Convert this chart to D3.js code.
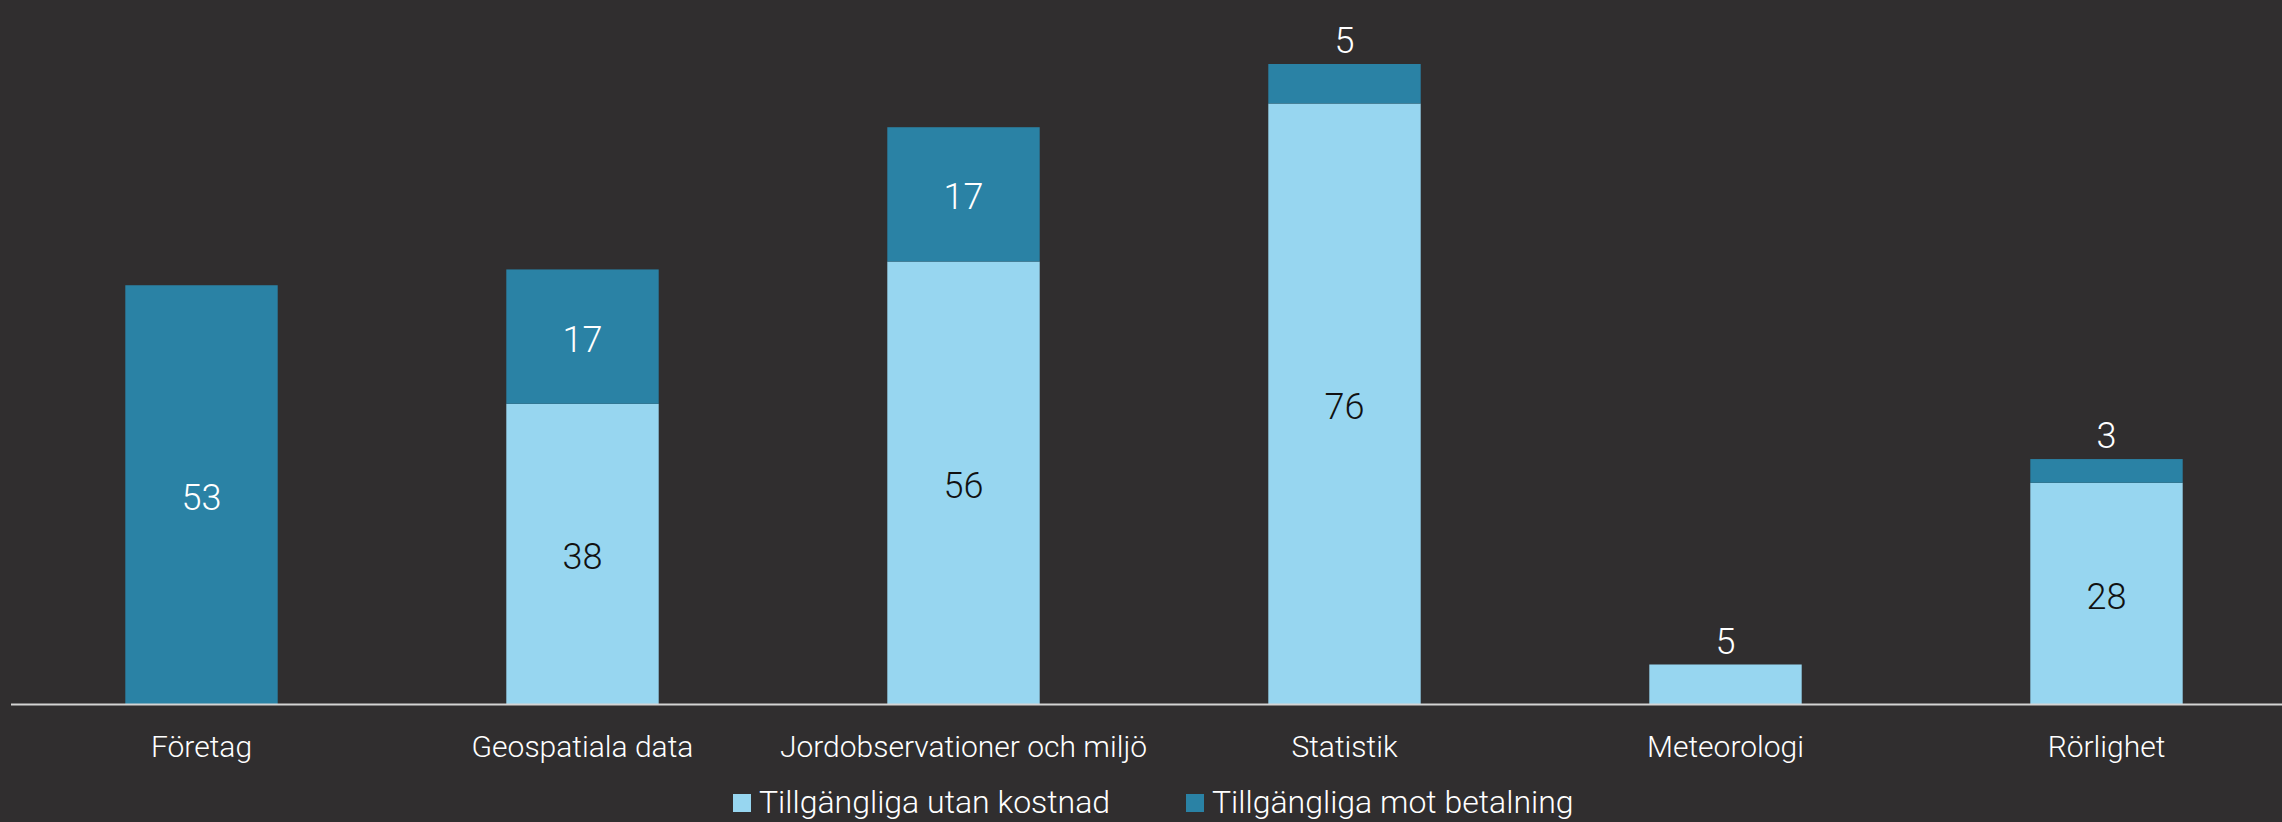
<!DOCTYPE html>
<html>
<head>
<meta charset="utf-8">
<script src="https://cdn.jsdelivr.net/npm/d3@7"></script>
<style>
	body { margin: 0; background: #302e2f; }
	svg text { font-family: Roboto, "Open Sans", sans-serif; font-weight: 300; }
</style>
</head>
<body>
<div class="main"></div>
<script>
//data
var categories = ["Företag", "Geospatiala data", "Jordobservationer och miljö", "Statistik", "Meteorologi", "Rörlighet"];
var freeValues = [0, 38, 56, 76, 5, 28];//Tillgängliga utan kostnad
var paidValues = [53, 17, 17, 5, 0, 3];//Tillgängliga mot betalning
var seriesNames = ["Tillgängliga utan kostnad", "Tillgängliga mot betalning"];
var seriesColors = ["#97d6f0", "#2a82a5"];
var labelColors = ["#111111", "#ffffff"];

//canvas config
var width = 2282;
var height = 822;
var baseY = 704;

var svg = d3.select(".main")
	.append("svg")
	.attr("width", width)
	.attr("height", height)
	.style("background", "#302e2f");

var xScale = d3.scaleBand()
	.domain(categories)
	.range([11, 2297])
	.paddingInner(0.6)
	.paddingOuter(0.3);

var yScale = d3.scaleLinear()
	.domain([0, d3.max(categories, function(c, i) { return freeValues[i] + paidValues[i]; })])
	.range([baseY, 64]);

//build stacked rows
var rows = categories.map(function(c, i) {
	return {cat: c, free: freeValues[i], paid: paidValues[i]};
});
var stacked = d3.stack().keys(["free", "paid"])(rows);

var layers = svg.append("g")
	.attr("class", "bars")
	.selectAll("g")
	.data(stacked)
	.enter()
	.append("g")
	.style("fill", function(d, i) { return seriesColors[i]; });

layers.selectAll("rect")
	.data(function(d) { return d; })
	.enter()
	.filter(function(d) { return d[1] - d[0] > 0; })
	.append("rect")
	.attr("x", function(d) { return xScale(d.data.cat); })
	.attr("width", xScale.bandwidth())
	.attr("y", function(d) { return yScale(d[1]); })
	.attr("height", function(d) { return yScale(d[0]) - yScale(d[1]); });

//value labels
stacked.forEach(function(layer, li) {
	layer.forEach(function(d) {
		var v = d[1] - d[0];
		if (v <= 0) return;
		var total = d.data.free + d.data.paid;
		var h = yScale(d[0]) - yScale(d[1]);
		var cx = xScale(d.data.cat) + xScale.bandwidth() / 2;
		var y, col;
		if (h < 45 && d[1] == total) {
			//small top segment: put label above the bar
			y = yScale(total) - 26;
			col = "#ffffff";
		} else {
			y = (yScale(d[0]) + yScale(d[1])) / 2;
			col = labelColors[li];
		}
		svg.append("text")
			.attr("class", "value-label")
			.attr("x", cx)
			.attr("y", y)
			.attr("dy", "0.42em")
			.attr("text-anchor", "middle")
			.style("font-size", "36px")
			.style("fill", col)
			.text(v);
	});
});

//x axis line and labels
var xAxis = d3.axisBottom(xScale).tickSize(0).tickPadding(32);
var axisG = svg.append("g")
	.attr("class", "x-axis")
	.attr("transform", "translate(0," + baseY + ")")
	.call(xAxis);
axisG.select(".domain").remove();
axisG.append("line")
	.attr("x1", 11)
	.attr("x2", width)
	.attr("y1", 0.5)
	.attr("y2", 0.5)
	.style("stroke", "#d4d4d4")
	.style("stroke-width", 2);
axisG.selectAll(".tick text")
	.style("font-size", "30px")
	.style("fill", "#ffffff");

//legend
var legend = svg.append("g")
	.attr("class", "legend")
	.attr("transform", "translate(733," + 803 + ")");
var legendX = [0, 453];
seriesNames.forEach(function(name, i) {
	var g = legend.append("g").attr("transform", "translate(" + legendX[i] + ",0)");
	g.append("rect")
		.attr("x", 0)
		.attr("y", -9)
		.attr("width", 18)
		.attr("height", 18)
		.style("fill", seriesColors[i]);
	g.append("text")
		.attr("x", 26)
		.attr("y", 0)
		.attr("dy", "0.3em")
		.style("font-size", "32px")
		.style("fill", "#ffffff")
		.text(name);
});
</script>
</body>
</html>
